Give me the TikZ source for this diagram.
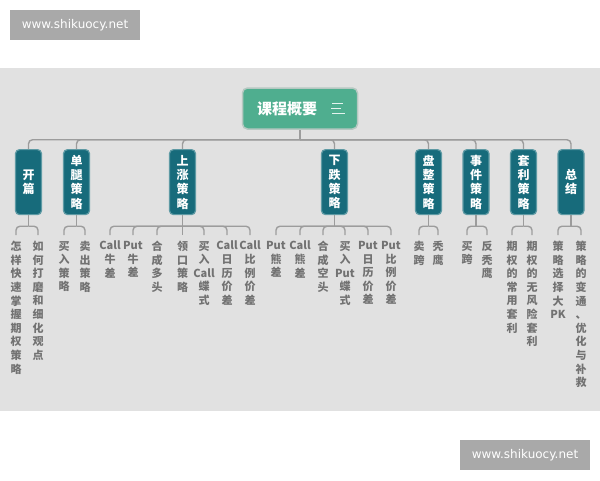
\documentclass[tikz,border=0pt]{standalone}
\usepackage{fontspec}
\newfontfamily\cjk{Noto Sans CJK SC}
\newfontfamily\wmfont{DejaVu Sans}
\usetikzlibrary{positioning}

\definecolor{bggray}{HTML}{E1E1E1}
\definecolor{titlegreen}{HTML}{4FAE8F}
\definecolor{titleedge}{HTML}{B5C8C1}
\definecolor{catteal}{HTML}{176B7B}
\definecolor{catedge}{HTML}{5E9AA4}
\definecolor{linkgray}{HTML}{9C9C9C}
\definecolor{leafgray}{HTML}{727272}
\definecolor{wmgray}{HTML}{A9A9A9}

\tikzset{
  titlebox/.style={draw=titleedge,fill=titlegreen,line width=1.5pt,rounded corners=5pt,
    minimum width=115pt,minimum height=41pt,inner sep=0pt,text=white,
    font=\cjk\bfseries\fontsize{15}{18}\selectfont},
  catbox/.style={draw=catedge,fill=catteal,line width=1.2pt,rounded corners=4pt,
    minimum width=26pt,minimum height=65pt,anchor=north,inner sep=0pt,text=white,
    align=center,font=\cjk\bfseries\fontsize{12}{14.3}\selectfont},
  leaf/.style={anchor=north,inner xsep=0pt,inner ysep=6pt,text=leafgray,align=center,
    font=\cjk\bfseries\fontsize{11}{13.6}\selectfont},
  link/.style={draw=linkgray,line width=1.4pt,rounded corners=4pt},
  wmark/.style={fill=wmgray,text=white,minimum width=130pt,minimum height=30pt,
    inner sep=0pt,font=\wmfont\fontsize{12}{13}\selectfont}
}

\begin{document}
\begin{tikzpicture}[x=1pt,y=-1pt]

%底色
\fill[white] (0,0) rectangle (600,480);
\useasboundingbox (0,0) rectangle (600,480);
\fill[bggray] (0,68) rectangle (600,411);

%水印
\node[wmark] (wm1) at (75,25) {www.shikuocy.net};
\node[wmark] (wm2) at (525,455) {www.shikuocy.net};

%中心主题
\node[titlebox] (T) at (300,108.5) {课程概要\kern26pt};
\draw[white!85!titlegreen,line width=1.3pt]
  ([shift={(-26,-5)}]T.east) -- ++(11,0)
  ([shift={(-27,0)}]T.east) -- ++(10,0)
  ([shift={(-26,5)}]T.east) -- ++(13,0);

%分类
\node[catbox] (kp) at (28.5,149) {开\\篇};
\node[catbox] (dt) at (76.5,149) {单\\腿\\策\\略};
\node[catbox] (sz) at (182.5,149) {上\\涨\\策\\略};
\node[catbox] (xd) at (334.5,149) {下\\跌\\策\\略};
\node[catbox] (pz) at (428.5,149) {盘\\整\\策\\略};
\node[catbox] (sj) at (476,149) {事\\件\\策\\略};
\node[catbox] (tl) at (523.5,149) {套\\利\\策\\略};
\node[catbox] (zj) at (571,149) {总\\结};

\draw[link] (T.south) -- ++(0,10) coordinate (Tb);
\draw[link] (Tb) -| (kp.north);
\draw[link] (Tb) -| (dt.north);
\draw[link] (Tb) -| (sz.north);
\draw[link] (Tb) -| (xd.north);
\draw[link] (Tb) -| (pz.north);
\draw[link] (Tb) -| (sj.north);
\draw[link] (Tb) -| (tl.north);
\draw[link] (Tb) -| (zj.north);

%开篇
\node[leaf] (kp1) at (16,235) {怎\\样\\快\\速\\掌\\握\\期\\权\\策\\略};
\node[leaf] (kp2) at (38,235) {如\\何\\打\\磨\\和\\细\\化\\观\\点};
\draw[link] (kp.south) -- ++(0,11) coordinate (kpb);
\draw[link] (kpb) -| (kp1.north);
\draw[link] (kpb) -| (kp2.north);

%单腿策略
\node[leaf] (dt1) at (64,235) {买\\入\\策\\略};
\node[leaf] (dt2) at (85,235) {卖\\出\\策\\略};
\draw[link] (dt.south) -- ++(0,11) coordinate (dtb);
\draw[link] (dtb) -| (dt1.north);
\draw[link] (dtb) -| (dt2.north);

%上涨策略
\node[leaf] (sz1) at (110,235) {Call\\牛\\差};
\node[leaf] (sz2) at (133,235) {Put\\牛\\差};
\node[leaf] (sz3) at (157,235) {合\\成\\多\\头};
\node[leaf] (sz4) at (182.5,235) {领\\口\\策\\略};
\node[leaf] (sz5) at (204,235) {买\\入\\Call\\蝶\\式};
\node[leaf] (sz6) at (227,235) {Call\\日\\历\\价\\差};
\node[leaf] (sz7) at (250,235) {Call\\比\\例\\价\\差};
\draw[link] (sz.south) -- ++(0,11) coordinate (szb);
\draw[link] (szb) -| (sz1.north);
\draw[link] (szb) -| (sz2.north);
\draw[link] (szb) -| (sz3.north);
\draw[link] (szb) -| (sz4.north);
\draw[link] (szb) -| (sz5.north);
\draw[link] (szb) -| (sz6.north);
\draw[link] (szb) -| (sz7.north);

%下跌策略
\node[leaf] (xd1) at (276,235) {Put\\熊\\差};
\node[leaf] (xd2) at (300,235) {Call\\熊\\差};
\node[leaf] (xd3) at (323,235) {合\\成\\空\\头};
\node[leaf] (xd4) at (345,235) {买\\入\\Put\\蝶\\式};
\node[leaf] (xd5) at (368,235) {Put\\日\\历\\价\\差};
\node[leaf] (xd6) at (391,235) {Put\\比\\例\\价\\差};
\draw[link] (xd.south) -- ++(0,11) coordinate (xdb);
\draw[link] (xdb) -| (xd1.north);
\draw[link] (xdb) -| (xd2.north);
\draw[link] (xdb) -| (xd3.north);
\draw[link] (xdb) -| (xd4.north);
\draw[link] (xdb) -| (xd5.north);
\draw[link] (xdb) -| (xd6.north);

%盘整策略
\node[leaf] (pz1) at (419,235) {卖\\跨};
\node[leaf] (pz2) at (438,235) {秃\\鹰};
\draw[link] (pz.south) -- ++(0,11) coordinate (pzb);
\draw[link] (pzb) -| (pz1.north);
\draw[link] (pzb) -| (pz2.north);

%事件策略
\node[leaf] (sj1) at (467,235) {买\\跨};
\node[leaf] (sj2) at (487,235) {反\\秃\\鹰};
\draw[link] (sj.south) -- ++(0,11) coordinate (sjb);
\draw[link] (sjb) -| (sj1.north);
\draw[link] (sjb) -| (sj2.north);

%套利策略
\node[leaf] (tl1) at (512,235) {期\\权\\的\\常\\用\\套\\利};
\node[leaf] (tl2) at (532,235) {期\\权\\的\\无\\风\\险\\套\\利};
\draw[link] (tl.south) -- ++(0,11) coordinate (tlb);
\draw[link] (tlb) -| (tl1.north);
\draw[link] (tlb) -| (tl2.north);

%总结
\node[leaf] (zj1) at (558,235) {策\\略\\选\\择\\大\\PK};
\node[leaf] (zj2) at (581,235) {策\\略\\的\\变\\通\\、\\优\\化\\与\\补\\救};
\draw[link] (zj.south) -- ++(0,11) coordinate (zjb);
\draw[link] (zjb) -| (zj1.north);
\draw[link] (zjb) -| (zj2.north);

\end{tikzpicture}
\end{document}
